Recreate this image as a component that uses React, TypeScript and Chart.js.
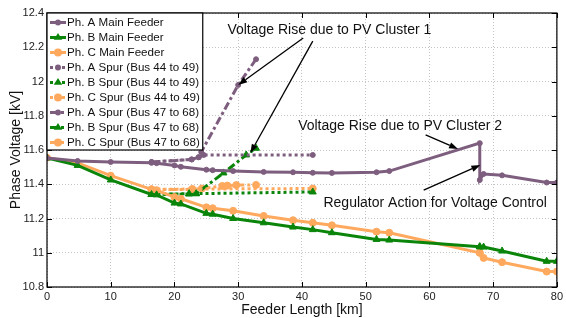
import React, { useEffect, useRef } from 'react';
import { Chart, registerables } from 'chart.js';

Chart.register(...registerables);

// ---------------- DATA ----------------
const mainKm = [0, 4.8, 10, 16.4, 17.2, 20, 21, 25, 26, 29.2, 34, 38.6, 41.7, 44.7, 51.7, 53.7, 67.9, 67.9, 68.5, 71.4, 78.4, 80];
const mainA = [11.553, 11.536, 11.53, 11.525, 11.523, 11.51, 11.502, 11.485, 11.482, 11.477, 11.472, 11.47, 11.467, 11.466, 11.47, 11.477, 11.64, 11.425, 11.46, 11.452, 11.41, 11.41];
const mainB = [11.553, 11.51, 11.425, 11.34, 11.338, 11.29, 11.285, 11.23, 11.225, 11.2, 11.175, 11.15, 11.135, 11.117, 11.078, 11.074, 11.035, 11.035, 11.033, 11.01, 10.95, 10.95];
const mainC = [11.555, 11.525, 11.45, 11.37, 11.365, 11.325, 11.315, 11.265, 11.26, 11.245, 11.215, 11.19, 11.175, 11.16, 11.123, 11.117, 11.0, 11.0, 10.97, 10.945, 10.89, 10.89];

const spur49KmA = [16.4, 22.7, 23.8, 24.6, 41.7];
const spur49A = [11.53, 11.545, 11.558, 11.571, 11.571];
const spur49KmB = [16.4, 22.3, 23.4, 41.7];
const spur49B = [11.34, 11.345, 11.345, 11.355];
const spur49KmC = [16.4, 22.8, 41.7];
const spur49C = [11.37, 11.372, 11.375];

const spur68KmA = [16.4, 22.7, 23.8, 24.2, 30.0, 32.8];
const spur68A = [11.53, 11.545, 11.558, 11.588, 11.98, 12.13];
const spur68KmB = [16.4, 22.3, 23.4, 27.7, 31.25, 32.8];
const spur68B = [11.34, 11.343, 11.345, 11.466, 11.571, 11.61];
const spur68KmC = [16.4, 22.8, 24.3, 27.5, 28.3, 29.7, 32.8];
const spur68C = [11.37, 11.37, 11.375, 11.39, 11.392, 11.395, 11.396];

const seriesLabels = [
  'Ph. A Main Feeder', 'Ph. B Main Feeder', 'Ph. C Main Feeder',
  'Ph. A Spur (Bus 44 to 49)', 'Ph. B Spur (Bus 44 to 49)', 'Ph. C Spur (Bus 44 to 49)',
  'Ph. A Spur (Bus 47 to 68)', 'Ph. B Spur (Bus 47 to 68)', 'Ph. C Spur (Bus 47 to 68)',
];

const xTicks = [0, 10, 20, 30, 40, 50, 60, 70, 80];
const yTicks = [10.8, 11, 11.2, 11.4, 11.6, 11.8, 12, 12.2, 12.4];
const yTickLabels = ['10.8', '11', '11.2', '11.4', '11.6', '11.8', '12', '12.2', '12.4'];

const annotationTexts = ['Voltage Rise due to PV Cluster 1', 'Voltage Rise due to PV Cluster 2', 'Regulator Action for Voltage Control'];
const annotationKm = [44.3, 55.4, 60.9];
const annotationKv = [12.30, 11.74, 11.29];
const arrowFromKm = [40.2, 41.7, 59.4, 59.1];
const arrowFromKv = [12.254, 12.236, 11.688, 11.366];
const arrowToKm = [30.0, 31.9, 64.5, 68.0];
const arrowToKv = [11.98, 11.582, 11.606, 11.512];

// ---------------- STYLE ----------------
const PURPLE = '#7E5E7E';
const GREEN = '#0A850A';
const ORANGE = '#FFA95E';
const FONT = "'Liberation Sans', Arial, Helvetica, sans-serif";
const DOT = [3, 3];
const DASHDOT = [8, 3, 3, 3];

const pts = (xs: number[], ys: number[]) => xs.map((x, i) => ({ x, y: ys[i] }));

function makeDataset(label: string, data: any, color: string, style: string, radius: number, dash: number[]) {
  return {
    label,
    data,
    borderColor: color,
    backgroundColor: color,
    borderWidth: 3,
    borderDash: dash,
    pointStyle: style,
    pointRadius: radius,
    pointBorderWidth: 1,
    pointBorderColor: color,
    pointBackgroundColor: color,
    tension: 0,
    fill: false,
  };
}

function drawMarker(ctx: CanvasRenderingContext2D, style: string, x: number, y: number, r: number, color: string) {
  ctx.save();
  ctx.fillStyle = color;
  ctx.beginPath();
  if (style === 'triangle') {
    const h = r * 1.5;
    ctx.moveTo(x, y - r);
    ctx.lineTo(x + r * 0.95, y + h - r);
    ctx.lineTo(x - r * 0.95, y + h - r);
    ctx.closePath();
  } else {
    ctx.arc(x, y, r, 0, Math.PI * 2);
  }
  ctx.fill();
  ctx.restore();
}

const framePlugin = {
  id: 'frame',
  afterDatasetsDraw(chart: any) {
    const { ctx, chartArea: a, scales } = chart;
    ctx.save();
    ctx.strokeStyle = '#000';
    ctx.lineWidth = 1.2;
    ctx.strokeRect(a.left, a.top, a.right - a.left, a.bottom - a.top);
    const tl = 5;
    ctx.lineWidth = 1;
    ctx.beginPath();
    xTicks.forEach((v) => {
      const px = Math.round(scales.x.getPixelForValue(v)) + 0.5;
      ctx.moveTo(px, a.bottom); ctx.lineTo(px, a.bottom - tl);
      ctx.moveTo(px, a.top); ctx.lineTo(px, a.top + tl);
    });
    yTicks.forEach((v) => {
      const py = Math.round(scales.y.getPixelForValue(v)) + 0.5;
      ctx.moveTo(a.left, py); ctx.lineTo(a.left + tl, py);
      ctx.moveTo(a.right, py); ctx.lineTo(a.right - tl, py);
    });
    ctx.stroke();
    ctx.restore();
  },
};

const legendPlugin = {
  id: 'boxLegend',
  afterDatasetsDraw(chart: any) {
    const { ctx, chartArea: a } = chart;
    const ds = chart.data.datasets;
    ctx.save();
    ctx.font = `11.6px ${FONT}`;
    let maxW = 0;
    ds.forEach((d: any) => { maxW = Math.max(maxW, ctx.measureText(d.label).width); });
    const rowH = 15;
    const boxW = 20 + maxW + 3;
    const boxH = rowH * ds.length + 2;
    const x0 = a.left;
    const y0 = a.top;
    ctx.fillStyle = '#fff';
    ctx.fillRect(x0, y0, boxW, boxH);
    ctx.strokeStyle = '#000';
    ctx.lineWidth = 1.2;
    ctx.strokeRect(x0, y0, boxW, boxH);
    ds.forEach((d: any, i: number) => {
      const cy = y0 + 9.5 + i * rowH;
      ctx.save();
      ctx.strokeStyle = d.borderColor;
      ctx.lineWidth = 3;
      ctx.setLineDash(d.borderDash || []);
      ctx.beginPath();
      ctx.moveTo(x0 + 3, cy);
      ctx.lineTo(x0 + 19, cy);
      ctx.stroke();
      ctx.restore();
      drawMarker(ctx, d.pointStyle, x0 + 11, cy, d.pointRadius + 0.5, d.borderColor);
      ctx.fillStyle = '#111';
      ctx.textBaseline = 'middle';
      ctx.textAlign = 'left';
      ctx.fillText(d.label, x0 + 20, cy + 0.5);
    });
    ctx.restore();
  },
};

const annotationPlugin = {
  id: 'notes',
  afterDraw(chart: any) {
    const { ctx, scales } = chart;
    const X = (v: number) => scales.x.getPixelForValue(v);
    const Y = (v: number) => scales.y.getPixelForValue(v);
    ctx.save();
    ctx.font = `14px ${FONT}`;
    ctx.fillStyle = '#111';
    ctx.textAlign = 'center';
    ctx.textBaseline = 'middle';
    annotationTexts.forEach((t, i) => ctx.fillText(t, X(annotationKm[i]), Y(annotationKv[i])));
    ctx.strokeStyle = '#000';
    ctx.fillStyle = '#000';
    ctx.lineWidth = 1.3;
    arrowFromKm.forEach((_, i) => {
      const x1 = X(arrowFromKm[i]), y1 = Y(arrowFromKv[i]);
      const x2 = X(arrowToKm[i]), y2 = Y(arrowToKv[i]);
      const ang = Math.atan2(y2 - y1, x2 - x1);
      const L = 9, W = 3.2;
      const bx = x2 - L * Math.cos(ang), by = y2 - L * Math.sin(ang);
      ctx.beginPath();
      ctx.moveTo(x1, y1);
      ctx.lineTo(bx, by);
      ctx.stroke();
      ctx.beginPath();
      ctx.moveTo(x2, y2);
      ctx.lineTo(bx + W * Math.sin(ang), by - W * Math.cos(ang));
      ctx.lineTo(bx - W * Math.sin(ang), by + W * Math.cos(ang));
      ctx.closePath();
      ctx.fill();
    });
    ctx.restore();
  },
};

export default function App() {
  const ref = useRef<HTMLCanvasElement | null>(null);
  useEffect(() => {
    if (!ref.current) return;
    const datasets = [
      makeDataset(seriesLabels[0], pts(mainKm, mainA), PURPLE, 'circle', 2.5, []),
      makeDataset(seriesLabels[1], pts(mainKm, mainB), GREEN, 'triangle', 4, []),
      makeDataset(seriesLabels[2], pts(mainKm, mainC), ORANGE, 'circle', 3.5, []),
      makeDataset(seriesLabels[3], pts(spur49KmA, spur49A), PURPLE, 'circle', 2.5, DOT),
      makeDataset(seriesLabels[4], pts(spur49KmB, spur49B), GREEN, 'triangle', 4, DOT),
      makeDataset(seriesLabels[5], pts(spur49KmC, spur49C), ORANGE, 'circle', 3.5, DOT),
      makeDataset(seriesLabels[6], pts(spur68KmA, spur68A), PURPLE, 'circle', 2.5, DASHDOT),
      makeDataset(seriesLabels[7], pts(spur68KmB, spur68B), GREEN, 'triangle', 4, DASHDOT),
      makeDataset(seriesLabels[8], pts(spur68KmC, spur68C), ORANGE, 'circle', 3.5, DASHDOT),
    ];
    const chart = new Chart(ref.current, {
      type: 'line',
      data: { datasets },
      options: {
        animation: false,
        responsive: false,
        devicePixelRatio: 1,
        layout: { padding: { top: 13, right: 6, left: 0, bottom: 0 } },
        plugins: { legend: { display: false }, tooltip: { enabled: false } },
        scales: {
          x: {
            type: 'linear',
            min: 0,
            max: 80,
            afterBuildTicks: (s: any) => { s.ticks = xTicks.map((v) => ({ value: v })); },
            afterFit: (s: any) => { s.height = 31; },
            ticks: { color: '#222', font: { family: FONT, size: 11 }, padding: 3, maxRotation: 0, autoSkip: false },
            grid: { color: '#c4c4c4', lineWidth: 1, drawTicks: false },
            border: { display: false, dash: [1, 2] },
            title: { display: true, text: 'Feeder Length [km]', color: '#111', font: { family: FONT, size: 14 }, padding: { top: 0, bottom: -1 } },
          },
          y: {
            type: 'linear',
            min: 10.8,
            max: 12.4,
            afterBuildTicks: (s: any) => { s.ticks = yTicks.map((v) => ({ value: v })); },
            afterFit: (s: any) => { s.width = 47; },
            ticks: {
              color: '#222', font: { family: FONT, size: 11 }, padding: 3, autoSkip: false,
              callback: (v: any) => {
                const i = yTicks.findIndex((t) => Math.abs(t - Number(v)) < 1e-6);
                return i >= 0 ? yTickLabels[i] : '';
              },
            },
            grid: { color: '#c4c4c4', lineWidth: 1, drawTicks: false },
            border: { display: false, dash: [1, 2] },
            title: { display: true, text: 'Phase Voltage [kV]', color: '#111', font: { family: FONT, size: 14 }, padding: { top: 8, bottom: 0 } },
          },
        },
      },
      plugins: [framePlugin, legendPlugin, annotationPlugin],
    } as any);
    return () => chart.destroy();
  }, []);
  return (
    <div style={{ position: 'fixed', left: 0, top: 0, width: 566, height: 318, background: '#fff' }}>
      <canvas ref={ref} width={566} height={318} style={{ width: 566, height: 318, display: 'block' }} />
    </div>
  );
}
